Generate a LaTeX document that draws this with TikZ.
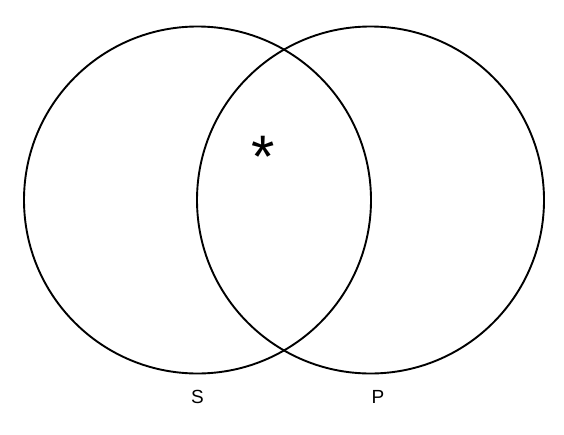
\documentclass[tikz,border=0pt]{standalone}
\usepackage{fontspec}
\setmainfont{Liberation Sans}
\usetikzlibrary{positioning}

\begin{document}
\begin{tikzpicture}[x=1pt, y=-1pt, line width=1.9pt,
	setlabel/.style={font=\fontsize{19}{22}\selectfont}]
	\useasboundingbox (0,0) rectangle (564,434);
	%Subject circle
	\coordinate (centS) at (197.5,200);
	\draw (centS) circle[radius=173.5];
	%Predicate circle
	\coordinate (centP) at (370.5,200);
	\draw (centP) circle[radius=173.5];
	% Mark in the overlap
	\node (star) at (263,157) {\fontsize{60}{60}\selectfont *};
	% Labels
	\node[setlabel] (labS) at (197.5,397) {S};
	\node[setlabel] (labP) at (378,397) {P};
\end{tikzpicture}
\end{document}
